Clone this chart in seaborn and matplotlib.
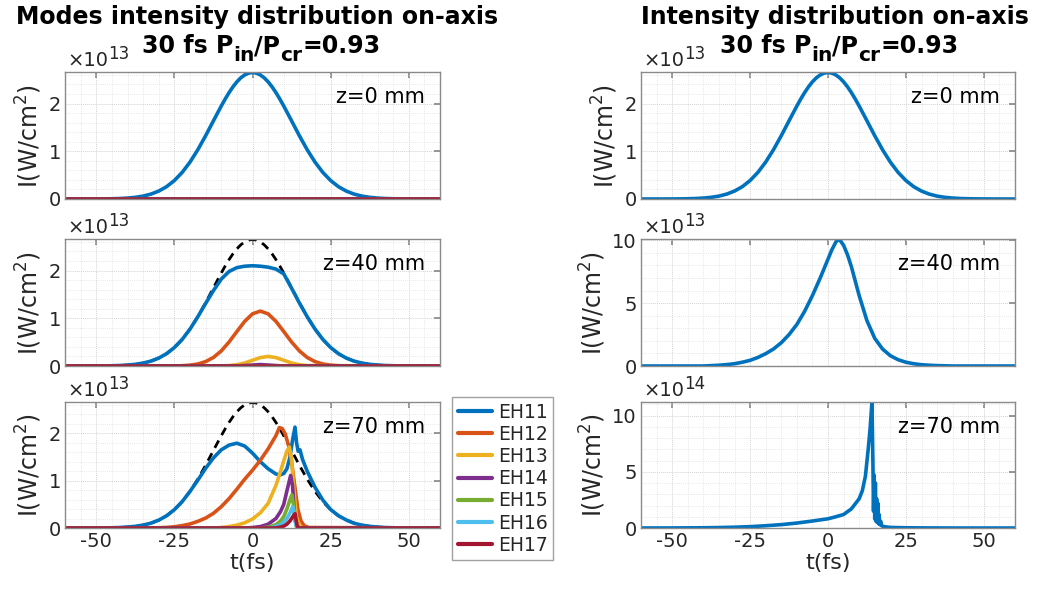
import numpy as np
import pandas as pd
import matplotlib
matplotlib.use("Agg")
import matplotlib.pyplot as plt
from matplotlib.ticker import MultipleLocator
import seaborn as sns

# ---------------- data (intensity in units of the axis multiplier) ----------------
MODES = ["EH11", "EH12", "EH13", "EH14", "EH15", "EH16", "EH17"]
MODE_COLORS = ["#0072BD", "#D95319", "#EDB120", "#7E2F8E", "#77AC30", "#4DBEEE", "#A2142F"]

T_ZERO = [-60, 60]
I_ZERO = [0.0, 0.0]

# input pulse (z=0), x1e13 W/cm^2
T_IN = [-60, -57.5, -55, -52.5, -50, -47.5, -45, -42.5, -40, -37.5, -35, -32.5, -30, -27.5, -25,
        -22.5, -20, -17.5, -15, -12.5, -10, -8.75, -7.5, -6.25, -5, -3.75, -2.5, -1.25, 0,
        1.25, 2.5, 3.75, 5, 6.25, 7.5, 8.75, 10, 12.5, 15, 17.5,
        20, 22.5, 25, 27.5, 30, 32.5, 35, 37.5, 40, 42.5, 45, 47.5, 50, 52.5, 55, 57.5, 60]
I_IN = [0.0, 0.0, 0.0002, 0.0005, 0.0012, 0.0025, 0.0052, 0.0102, 0.0192, 0.0349, 0.0609, 0.1025,
        0.166, 0.258, 0.387, 0.557, 0.773, 1.032, 1.325, 1.638, 1.947, 2.093, 2.229, 2.350,
        2.454, 2.538, 2.599, 2.637, 2.65,
        2.637, 2.599, 2.538, 2.454, 2.350, 2.229, 2.093, 1.947, 1.638, 1.325, 1.032,
        0.773, 0.557, 0.387, 0.258, 0.166, 0.1025,
        0.0609, 0.0349, 0.0192, 0.0102, 0.0052, 0.0025, 0.0012, 0.0005, 0.0002, 0.0, 0.0]

# z = 40 mm modes, x1e13
T40_EH11 = [-60, -57.5, -55, -52.5, -50, -47.5, -45, -42.5, -40, -37.5, -35, -32.5, -30, -27.5,
            -25, -22.5, -20, -17.5, -15, -12.5, -10, -7.5, -5, -2.5, 0, 2.5, 5, 7.5, 10, 12.5,
            15, 17.5, 20, 22.5, 25, 27.5, 30, 32.5, 35, 37.5, 40, 42.5, 45, 47.5, 50, 52.5, 55,
            57.5, 60]
I40_EH11 = [0.0, 0.0, 0.0002, 0.0005, 0.0012, 0.0025, 0.0052, 0.0102, 0.0192, 0.0349, 0.0609, 0.1025,
            0.166, 0.258, 0.387, 0.557, 0.773, 1.032, 1.31, 1.58, 1.82, 1.98, 2.06, 2.09, 2.10,
            2.09, 2.07, 2.03, 1.93, 1.63, 1.32, 1.032, 0.773, 0.557, 0.387, 0.258, 0.166, 0.1025,
            0.0609, 0.0349, 0.0192, 0.0102, 0.0052, 0.0025, 0.0012, 0.0005, 0.0002, 0.0, 0.0]
T40_EH12 = [-60, -25, -22.5, -20, -17.5, -15, -12.5, -10, -7.5, -5, -2.5, 0, 2.5, 5, 7.5, 10,
            12.5, 15, 17.5, 20, 22.5, 25, 27.5, 30, 60]
I40_EH12 = [0.0, 0.002, 0.006, 0.018, 0.042, 0.092, 0.179, 0.316, 0.503, 0.722, 0.935, 1.092, 1.15,
            1.092, 0.935, 0.722, 0.503, 0.316, 0.179, 0.092, 0.042, 0.018, 0.006, 0.0, 0.0]
T40_EH13 = [-60, -12.5, -10, -7.5, -5, -2.5, 0, 2.5, 5, 7.5, 10, 12.5, 15, 17.5, 60]
I40_EH13 = [0.0, 0.0, 0.002, 0.008, 0.026, 0.063, 0.12, 0.176, 0.2, 0.176, 0.12, 0.063, 0.026,
            0.008, 0.0]
T40_EH14 = [-60, -5, 0, 2.5, 5, 10, 60]
I40_EH14 = [0.0, 0.0, 0.02, 0.03, 0.02, 0.0, 0.0]

# z = 70 mm modes, x1e13
T70_EH11 = [-60, -57.5, -55, -52.5, -50, -47.5, -45, -42.5, -40, -37.5, -35, -32.5, -30, -27.5, -25,
            -22.5, -20, -17.5, -15, -12.5, -10, -7.5, -5, -2.5, 0, 2.5, 5, 7.5, 8.8, 10, 11, 12,
            12.8, 13.6, 14.1, 14.6, 15.2, 16, 17.5, 20, 22.5, 25, 27.5, 30, 32.5, 35, 37.5, 40,
            42.5, 45, 47.5, 50, 55, 60]
I70_EH11 = [0.0, 0.0, 0.0002, 0.0005, 0.0012, 0.0025, 0.0052, 0.0102, 0.0192, 0.0349, 0.0609, 0.1025,
            0.166, 0.258, 0.387, 0.557, 0.773, 1.01, 1.26, 1.48, 1.65, 1.75, 1.79, 1.73, 1.58,
            1.40, 1.25, 1.14, 1.12, 1.15, 1.25, 1.50, 1.85, 2.13, 1.80, 1.62, 1.65, 1.45, 1.20,
            0.86, 0.59, 0.39, 0.26, 0.17, 0.10, 0.06, 0.035, 0.019, 0.01, 0.005, 0.002, 0.001,
            0.0, 0.0]
T70_EH12 = [-60, -32.5, -30, -27.5, -25, -22.5, -20, -17.5, -15, -12.5, -10, -7.5, -5, -2.5, 0,
            2.5, 5, 7.5, 8.6, 9.5, 10.5, 11.5, 12.5, 13.5, 14.5, 15.5, 16.5, 18, 60]
I70_EH12 = [0.0, 0.002, 0.005, 0.012, 0.025, 0.05, 0.085, 0.14, 0.21, 0.31, 0.45, 0.62, 0.82,
            1.03, 1.22, 1.43, 1.67, 1.95, 2.12, 2.10, 1.98, 1.75, 1.40, 0.90, 0.40, 0.15, 0.05,
            0.01, 0.0]
T70_EH13 = [-60, -12.5, -10, -7.5, -5, -2.5, 0, 2.5, 5, 7.5, 9, 10, 11, 11.8, 12.5, 13.2, 14, 15,
            16, 60]
I70_EH13 = [0.0, 0.0, 0.01, 0.03, 0.06, 0.11, 0.19, 0.32, 0.52, 0.90, 1.20, 1.42, 1.62, 1.71, 1.45,
            0.85, 0.25, 0.05, 0.0, 0.0]
T70_EH14 = [-60, -2.5, 0, 2.5, 5, 7.5, 9, 10, 11, 12.2, 12.8, 13.3, 14, 15, 60]
I70_EH14 = [0.0, 0.0, 0.01, 0.03, 0.08, 0.20, 0.35, 0.50, 0.78, 1.11, 0.90, 0.40, 0.05, 0.0, 0.0]
T70_EH15 = [-60, 2.5, 5, 7.5, 9, 10, 11, 12, 12.6, 13.1, 13.6, 14.2, 15, 60]
I70_EH15 = [0.0, 0.0, 0.02, 0.07, 0.15, 0.24, 0.40, 0.60, 0.70, 0.50, 0.15, 0.02, 0.0, 0.0]
T70_EH16 = [-60, 5, 7.5, 9, 10, 11, 12, 12.9, 13.4, 13.9, 14.5, 60]
I70_EH16 = [0.0, 0.0, 0.03, 0.07, 0.12, 0.20, 0.32, 0.45, 0.30, 0.06, 0.0, 0.0]
T70_EH17 = [-60, 7.5, 9, 10, 11, 12, 13, 13.6, 14, 14.4, 15, 60]
I70_EH17 = [0.0, 0.0, 0.02, 0.04, 0.08, 0.15, 0.25, 0.30, 0.15, 0.02, 0.0, 0.0]

# total on-axis intensity
T40_TOT = [-60, -40, -37.5, -35, -32.5, -30, -27.5, -25, -22.5, -20, -17.5, -15, -12.5, -10, -7.5,
           -5, -2.5, 0, 1.25, 2.5, 3.2, 4, 5, 6.25, 7.5, 10, 12.5, 15, 17.5, 20, 22.5, 25, 27.5,
           30, 32.5, 35, 37.5, 40, 60]
I40_TOT = [0.0, 0.0, 0.03, 0.06, 0.11, 0.18, 0.30, 0.45, 0.68, 0.98, 1.35, 1.85, 2.5, 3.3, 4.35,
           5.6, 7.0, 8.5, 9.25, 9.85, 10.05, 9.95, 9.6, 8.85, 7.9, 5.6, 3.6, 2.2, 1.35, 0.82, 0.5,
           0.3, 0.18, 0.1, 0.06, 0.03, 0.015, 0.0, 0.0]   # x1e13
T70_TOT = [-60, -50, -40, -35, -30, -25, -20, -15, -10, -5, 0, 2.5, 5, 7.5, 10, 11, 12, 12.9,
           13.5, 14.1, 14.4, 14.6, 14.8, 15.0, 15.2, 15.4, 15.6, 15.8, 16.0, 16.2, 16.4, 16.6,
           16.9, 17.2, 18, 20, 25, 30, 40, 60]
I70_TOT = [0.0, 0.005, 0.02, 0.04, 0.07, 0.12, 0.2, 0.3, 0.44, 0.62, 0.82, 1.0, 1.2, 1.7, 2.6,
           3.3, 4.6, 7.0, 8.8, 11.2, 6.0, 1.5, 4.7, 0.8, 4.0, 0.6, 2.6, 0.5, 2.2, 0.4, 1.2, 0.3,
           0.6, 0.2, 0.12, 0.05, 0.02, 0.01, 0.0, 0.0]   # x1e14

X_TICKS = [-50, -25, 0, 25, 50]
Z_LABELS = ["z=0 mm", "z=40 mm", "z=70 mm"]
TITLE_LEFT = "Modes intensity distribution on-axis"
TITLE_RIGHT = "Intensity distribution on-axis"
SUB_PARTS = [("30 fs P", 0), ("in", 1), ("/P", 0), ("cr", 1), ("=0.93", 0)]

# ---------------- figure ----------------
sns.set_theme(style="white")
plt.rcParams["font.family"] = ["DejaVu Sans"]
plt.rcParams["mathtext.fontset"] = "dejavusans"
plt.rcParams["axes.unicode_minus"] = False

W, H = 1037, 590
fig = plt.figure(figsize=(W / 100, H / 100), dpi=100)
renderer = fig.canvas.get_renderer()

def fig_axes(x0, x1, y0, y1):
    return fig.add_axes([x0 / W, 1 - y1 / H, (x1 - x0) / W, (y1 - y0) / H])

rows = [(72, 199), (239, 366), (402, 528)]
left_axes = [fig_axes(65, 440, r0, r1) for r0, r1 in rows]
right_axes = [fig_axes(641, 1015, r0, r1) for r0, r1 in rows]

TXT = "#262626"
EDGE = "#8a8a8a"
LW = 2.6

def rich(x_px, y_px, parts, align="center", color="black", weight="normal"):
    """parts: (text, size, dy_px) pieces placed along a baseline."""
    texts = [fig.text(0, 0, s, fontsize=sz, fontweight=weight, color=color,
                      va="baseline", ha="left") for s, sz, dy in parts]
    widths = [t.get_window_extent(renderer).width for t in texts]
    x = x_px - (sum(widths) / 2 if align == "center" else 0)
    for t, w, (s, sz, dy) in zip(texts, widths, parts):
        t.set_position((x / W, 1 - (y_px + dy) / H))
        x += w

def style(ax, ymax, ymajor, yminor, exp, zlabel, show_x, top_px):
    ax.set_xlim(-60, 60)
    ax.set_ylim(0, ymax)
    ax.set_xticks(X_TICKS)
    ax.xaxis.set_minor_locator(MultipleLocator(5))
    ax.yaxis.set_major_locator(MultipleLocator(ymajor))
    ax.yaxis.set_minor_locator(MultipleLocator(yminor))
    ax.grid(True, which="major", color="#d4d4d4", lw=0.7, ls=(0, (1, 1)))
    ax.grid(True, which="minor", color="#e0e0e0", lw=0.6, ls=(0, (1, 1.5)))
    ax.set_axisbelow(True)
    ax.tick_params(which="major", direction="in", top=True, right=True, length=4,
                   color=EDGE, labelsize=14, labelcolor=TXT, pad=3)
    ax.tick_params(which="minor", length=0)
    for s in ax.spines.values():
        s.set_color(EDGE)
        s.set_linewidth(1.0)
    ax.set_ylabel(r"I(W/cm$^2$)", fontsize=17, color=TXT, labelpad=3)
    if show_x:
        ax.set_xlabel("t(fs)", fontsize=16, color=TXT, labelpad=1)
    else:
        ax.tick_params(axis="x", labelbottom=False)
        ax.set_xlabel("")
    x_left = ax.get_position().x0 * W + 2
    rich(x_left, top_px - 6, [("\u00d710", 14, 0), (str(exp), 12, -7)], align="left",
         color=TXT)
    ax.text(0.96, 0.80, zlabel, transform=ax.transAxes, ha="right", va="center",
            fontsize=15, color="black")

def line(ax, t, i, color, label=None, dashed=False):
    df = pd.DataFrame({"t": t, "I": i})
    if dashed:
        sns.lineplot(data=df, x="t", y="I", ax=ax, color="black", lw=2.0,
                     linestyle=(0, (3, 2.2)), estimator=None, sort=False, label=label)
    else:
        sns.lineplot(data=df, x="t", y="I", ax=ax, color=color, lw=LW,
                     estimator=None, sort=False, label=label)

# left column: modes
mode_data = [
    [(T_IN, I_IN)] + [(T_ZERO, I_ZERO)] * 6,
    [(T40_EH11, I40_EH11), (T40_EH12, I40_EH12), (T40_EH13, I40_EH13), (T40_EH14, I40_EH14),
     (T_ZERO, I_ZERO), (T_ZERO, I_ZERO), (T_ZERO, I_ZERO)],
    [(T70_EH11, I70_EH11), (T70_EH12, I70_EH12), (T70_EH13, I70_EH13), (T70_EH14, I70_EH14),
     (T70_EH15, I70_EH15), (T70_EH16, I70_EH16), (T70_EH17, I70_EH17)],
]
for k, ax in enumerate(left_axes):
    if k > 0:
        line(ax, T_IN, I_IN, "black", dashed=True)
    for m, (t, i) in enumerate(mode_data[k]):
        line(ax, t, i, MODE_COLORS[m], label=MODES[m] if k == 2 else None)
    style(ax, 2.66, 1, 0.2, 13, Z_LABELS[k], k == 2, rows[k][0])
    if ax.get_legend() is not None:
        ax.get_legend().remove()

# legend
handles, labels = left_axes[2].get_legend_handles_labels()
hl = [(h, l) for h, l in zip(handles, labels) if l in MODES]
leg = fig.legend([h for h, _ in hl], [l for _, l in hl], loc="upper left",
                 bbox_to_anchor=(452 / W, 1 - 397 / H), bbox_transform=fig.transFigure,
                 fontsize=13.5, frameon=True, fancybox=False, handlelength=1.85,
                 handletextpad=0.3, labelspacing=0.17, borderpad=0.3, borderaxespad=0)
leg.get_frame().set_edgecolor(EDGE)
leg.get_frame().set_linewidth(1.0)
for lh in leg.get_lines():
    lh.set_linewidth(3)

# right column: total
line(right_axes[0], T_IN, I_IN, MODE_COLORS[0])
style(right_axes[0], 2.66, 1, 0.2, 13, Z_LABELS[0], False, rows[0][0])
line(right_axes[1], T40_TOT, I40_TOT, MODE_COLORS[0])
style(right_axes[1], 10.1, 5, 1, 13, Z_LABELS[1], False, rows[1][0])
line(right_axes[2], T70_TOT, I70_TOT, MODE_COLORS[0])
style(right_axes[2], 11.2, 5, 1, 14, Z_LABELS[2], True, rows[2][0])
for ax in right_axes:
    if ax.get_legend() is not None:
        ax.get_legend().remove()

def sub_parts():
    return [(s, 14.5 if sub else 17, 8 if sub else 0) for s, sub in SUB_PARTS]

rich(257, 24, [(TITLE_LEFT, 17, 0)], weight="bold")
rich(261, 53, sub_parts(), weight="bold")
rich(835, 24, [(TITLE_RIGHT, 17, 0)], weight="bold")
rich(839, 53, sub_parts(), weight="bold")

fig.savefig("out.png", dpi=100)
